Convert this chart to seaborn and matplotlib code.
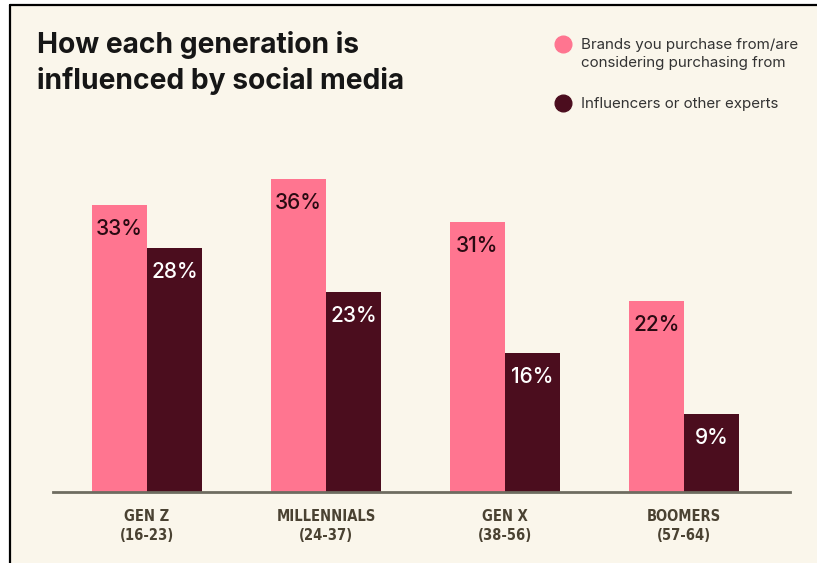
import matplotlib
matplotlib.use("Agg")
import matplotlib.pyplot as plt
from matplotlib.lines import Line2D
from matplotlib.patches import Rectangle
import seaborn as sns
import pandas as pd

# Survey data: share influenced by each source, per generation
generations = ["GEN Z\n(16-23)", "MILLENNIALS\n(24-37)", "GEN X\n(38-56)", "BOOMERS\n(57-64)"]
series_names = ["Brands you purchase from/are\nconsidering purchasing from",
                "Influencers or other experts"]
brands = [33, 36, 31, 22]
influencers = [28, 23, 16, 9]

PINK = "#FF7590"
WINE = "#4B0D1E"
CREAM = "#FAF6EB"

df = pd.DataFrame({
    "generation": generations * 2,
    "source": [series_names[0]] * 4 + [series_names[1]] * 4,
    "value": brands + influencers,
})

sns.set_theme(style="white")
plt.rcParams["font.family"] = ["Inter", "DejaVu Sans"]

W, H = 817, 563
fig = plt.figure(figsize=(W / 100, H / 100), dpi=100, facecolor="white")

# cream panel with a thin dark frame on the left and top
fig.patches.append(Rectangle((10 / W, 0), 1, (H - 5) / H, transform=fig.transFigure,
                             facecolor=CREAM, edgecolor="none", zorder=-5))
fig.add_artist(Line2D([10 / W, 10 / W], [0, (H - 5) / H], transform=fig.transFigure,
                      color="black", lw=1.6))
fig.add_artist(Line2D([10 / W, 1], [(H - 5) / H, (H - 5) / H], transform=fig.transFigure,
                      color="black", lw=1.6))

# axes placed in pixel terms: baseline at y=492, x from 53 to 790
x0, x1 = 53, 790
y_base, y_top = 492, 150
ax = fig.add_axes([x0 / W, (H - y_base) / H, (x1 - x0) / W, (y_base - y_top) / H])
ax.set_facecolor("none")
ax.set_zorder(2)

sns.barplot(data=df, x="generation", y="value", hue="source",
            palette=[PINK, WINE], width=0.615, dodge=True, saturation=1,
            gap=0, linewidth=0, ax=ax, legend=False)

px_per_unit = 179
ax.set_xlim(-(147 - x0) / px_per_unit, (x1 - 147) / px_per_unit)
ax.set_ylim(0, (y_base - y_top) / 8.7)

for side in ["top", "right", "left"]:
    ax.spines[side].set_visible(False)
ax.spines["bottom"].set_color("#6E6C60")
ax.spines["bottom"].set_linewidth(2.0)
ax.spines["bottom"].set_zorder(5)
ax.set_yticks([])
ax.set_xlabel("")
ax.set_ylabel("")
ax.tick_params(axis="x", length=0, pad=12)
for lbl in ax.get_xticklabels():
    lbl.set_fontfamily(["DejaVu Sans"])
    lbl.set_fontstretch("condensed")
    lbl.set_fontweight("bold")
    lbl.set_fontsize(10.5)
    lbl.set_color("#4A4232")
    lbl.set_linespacing(1.4)

# value labels inside the top of each bar
for container, color in zip(ax.containers, ["#2A0A12", "white"]):
    for bar, val in zip(container, container.datavalues):
        ax.annotate(f"{val:.0f}%", (bar.get_x() + bar.get_width() / 2, bar.get_height()),
                    xytext=(0, -24 * 72 / 100), textcoords="offset points",
                    ha="center", va="center", fontsize=15, fontweight="medium",
                    color=color)

# title
fig.text(37 / W, 1 - 63 / H, "How each generation is\ninfluenced by social media",
         fontsize=20.3, fontweight="bold", color="#161616", ha="left", va="center",
         linespacing=1.34)

# legend
legend_items = [(series_names[0], PINK, 53), (series_names[1], WINE, 103)]
for text, color, yc in legend_items:
    first_line_y = 44 if "\n" in text else yc
    fig.add_artist(Line2D([563 / W], [1 - first_line_y / H], transform=fig.transFigure,
                          marker="o", markersize=12, color=color, linestyle="none"))
    fig.text(581 / W, 1 - (yc + 1) / H, text, fontsize=10.9, color="#333333",
             ha="left", va="center", linespacing=1.3)

fig.savefig("out.png", dpi=100, facecolor=fig.get_facecolor())
